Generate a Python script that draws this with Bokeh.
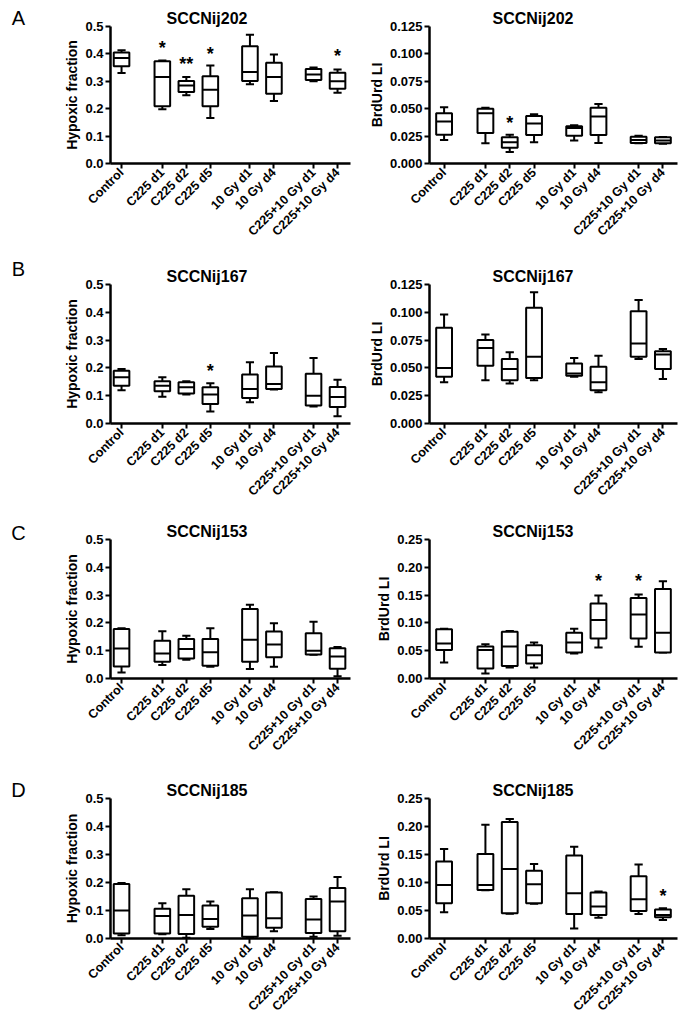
from bokeh.plotting import figure
from bokeh.layouts import gridplot, row
from bokeh.models import FixedTicker, ColumnDataSource, Range1d, NumeralTickFormatter
from bokeh.core.properties import value
from bokeh.embed import file_html
from bokeh.resources import INLINE
from math import pi

groups = ["Control", "C225 d1", "C225 d2", "C225 d5", "10 Gy d1", "10 Gy d4",
          "C225+10 Gy d1", "C225+10 Gy d4"]
group_pos = [0, 1.7, 2.7, 3.7, 5.35, 6.35, 8.0, 9.0]

# ---- A : SCCNij202 ----
a_hyp_min = [0.330, 0.198, 0.249, 0.166, 0.289, 0.228, 0.300, 0.258]
a_hyp_q1 = [0.355, 0.209, 0.261, 0.209, 0.301, 0.255, 0.305, 0.273]
a_hyp_med = [0.385, 0.316, 0.285, 0.269, 0.334, 0.316, 0.325, 0.300]
a_hyp_q3 = [0.405, 0.373, 0.301, 0.318, 0.428, 0.368, 0.345, 0.331]
a_hyp_max = [0.413, 0.376, 0.316, 0.358, 0.470, 0.398, 0.350, 0.343]
a_hyp_star_idx = [1, 2, 3, 7]
a_hyp_star_txt = ["*", "**", "*", "*"]
a_hyp_star_y = [0.440, 0.382, 0.419, 0.410]

a_brd_min = [0.0215, 0.0185, 0.0105, 0.0194, 0.0210, 0.0188, 0.0185, 0.0180]
a_brd_q1 = [0.0263, 0.0278, 0.0144, 0.0260, 0.0254, 0.0260, 0.0188, 0.0185]
a_brd_med = [0.0383, 0.0458, 0.0194, 0.0365, 0.0323, 0.0428, 0.0215, 0.0210]
a_brd_q3 = [0.0458, 0.0500, 0.0240, 0.0434, 0.0340, 0.0508, 0.0245, 0.0239]
a_brd_max = [0.0514, 0.0508, 0.0263, 0.0449, 0.0350, 0.0544, 0.0254, 0.0241]
a_brd_star_idx = [2]
a_brd_star_txt = ["*"]
a_brd_star_y = [0.0419]

# ---- B : SCCNij167 ----
b_hyp_min = [0.120, 0.096, 0.104, 0.043, 0.076, 0.122, 0.061, 0.026]
b_hyp_q1 = [0.136, 0.116, 0.108, 0.070, 0.092, 0.124, 0.065, 0.059]
b_hyp_med = [0.166, 0.136, 0.130, 0.104, 0.124, 0.142, 0.100, 0.095]
b_hyp_q3 = [0.190, 0.152, 0.148, 0.130, 0.176, 0.205, 0.179, 0.131]
b_hyp_max = [0.196, 0.166, 0.152, 0.145, 0.220, 0.254, 0.236, 0.157]
b_hyp_star_idx = [3]
b_hyp_star_txt = ["*"]
b_hyp_star_y = [0.208]

b_brd_min = [0.037, 0.039, 0.036, 0.039, 0.042, 0.028, 0.058, 0.040]
b_brd_q1 = [0.042, 0.052, 0.039, 0.041, 0.043, 0.030, 0.060, 0.049]
b_brd_med = [0.050, 0.068, 0.049, 0.060, 0.045, 0.037, 0.072, 0.062]
b_brd_q3 = [0.086, 0.075, 0.058, 0.104, 0.054, 0.051, 0.101, 0.065]
b_brd_max = [0.098, 0.080, 0.064, 0.118, 0.059, 0.061, 0.111, 0.067]
b_brd_star_idx = []
b_brd_star_txt = []
b_brd_star_y = []

# ---- C : SCCNij153 ----
c_hyp_min = [0.022, 0.049, 0.067, 0.042, 0.034, 0.042, 0.085, 0.008]
c_hyp_q1 = [0.043, 0.060, 0.072, 0.046, 0.060, 0.076, 0.086, 0.035]
c_hyp_med = [0.108, 0.090, 0.106, 0.094, 0.139, 0.122, 0.100, 0.079]
c_hyp_q3 = [0.178, 0.136, 0.142, 0.142, 0.250, 0.169, 0.163, 0.109]
c_hyp_max = [0.181, 0.170, 0.154, 0.181, 0.265, 0.199, 0.204, 0.113]
c_hyp_star_idx = []
c_hyp_star_txt = []
c_hyp_star_y = []

c_brd_min = [0.0287, 0.0090, 0.0197, 0.0197, 0.0449, 0.0556, 0.0570, 0.0467]
c_brd_q1 = [0.0514, 0.0180, 0.0227, 0.0269, 0.0467, 0.0718, 0.0720, 0.0467]
c_brd_med = [0.0628, 0.0514, 0.0574, 0.0419, 0.0646, 0.1050, 0.1150, 0.0825]
c_brd_q3 = [0.0885, 0.0574, 0.0843, 0.0598, 0.0825, 0.1350, 0.1450, 0.1610]
c_brd_max = [0.0897, 0.0616, 0.0855, 0.0646, 0.0897, 0.1495, 0.1510, 0.1750]
c_brd_star_idx = [5, 6]
c_brd_star_txt = ["*", "*"]
c_brd_star_y = [0.184, 0.184]

# ---- D : SCCNij185 ----
d_hyp_min = [0.012, 0.015, 0.003, 0.034, 0.002, 0.026, 0.006, 0.010]
d_hyp_q1 = [0.018, 0.018, 0.016, 0.042, 0.006, 0.038, 0.020, 0.026]
d_hyp_med = [0.100, 0.080, 0.084, 0.070, 0.082, 0.072, 0.068, 0.132]
d_hyp_q3 = [0.195, 0.106, 0.153, 0.118, 0.144, 0.164, 0.141, 0.180]
d_hyp_max = [0.198, 0.126, 0.176, 0.132, 0.176, 0.165, 0.150, 0.220]
d_hyp_star_idx = []
d_hyp_star_txt = []
d_hyp_star_y = []

d_brd_min = [0.0467, 0.0860, 0.0440, 0.0620, 0.0180, 0.0370, 0.0437, 0.0330]
d_brd_q1 = [0.0628, 0.0867, 0.0449, 0.0628, 0.0437, 0.0420, 0.0490, 0.0380]
d_brd_med = [0.0957, 0.0957, 0.1240, 0.0970, 0.0810, 0.0570, 0.0700, 0.0420]
d_brd_q3 = [0.1376, 0.1510, 0.2080, 0.1210, 0.1480, 0.0820, 0.1110, 0.0520]
d_brd_max = [0.1600, 0.2030, 0.2135, 0.1330, 0.1640, 0.0840, 0.1320, 0.0540]
d_brd_star_idx = [7]
d_brd_star_txt = ["*"]
d_brd_star_y = [0.085]

titles = ["SCCNij202", "SCCNij167", "SCCNij153", "SCCNij185"]
letters = ["A", "B", "C", "D"]
hyp_label = "Hypoxic fraction"
brd_label = "BrdUrd LI"
hyp_ticks = [0.0, 0.1, 0.2, 0.3, 0.4, 0.5]
brd_ticks_small = [0.0, 0.025, 0.05, 0.075, 0.1, 0.125]
brd_ticks_large = [0.0, 0.05, 0.1, 0.15, 0.2, 0.25]

FONT = "Liberation Sans"
BOX_W = 0.65
CAP_W = 0.34
LETTER_W = 30

row_heights = [265, 255, 259, 247]
row_tops = [26, 19, 19, 19]
frame_heights = [137, 139, 139, 140]
letter_up_px = [9, 16, 7, 9]   # letter centre above frame top


def make_panel(kind, row_i, mins, q1s, meds, q3s, maxs, s_idx, s_txt, s_y,
               ylabel, ticks, fmt, title):
    if kind == "left":
        w, bl, br = 365 - LETTER_W, 110 - LETTER_W, 15
        xr = Range1d(-0.46, 9.54)
        toff = 56
    else:
        w, bl, br = 313, 64, 1
        xr = Range1d(-0.6, 9.6)
        toff = 63
    h = row_heights[row_i]
    top = row_tops[row_i]
    bb = h - top - frame_heights[row_i]
    p = figure(width=w, height=h, output_backend="svg", toolbar_location=None,
               x_range=xr, y_range=Range1d(ticks[0], ticks[-1]),
               min_border_left=bl, min_border_right=br, min_border_top=top,
               min_border_bottom=bb)
    p.title.text = title
    p.title.text_font = FONT
    p.title.text_font_size = "16px"
    p.title.text_font_style = "bold"
    p.title.text_color = "black"
    p.title.align = "left"
    p.title.offset = toff
    p.title.standoff = 0
    p.outline_line_color = None
    p.xgrid.visible = False
    p.ygrid.visible = False

    x = group_pos
    src = ColumnDataSource(dict(
        x=x, lo=mins, q1=q1s, med=meds, q3=q3s, hi=maxs,
        l=[v - BOX_W / 2 for v in x], r=[v + BOX_W / 2 for v in x],
        cl=[v - CAP_W / 2 for v in x], cr=[v + CAP_W / 2 for v in x]))
    lw = 2
    p.segment(x0="x", y0="q3", x1="x", y1="hi", source=src, line_color="black", line_width=lw)
    p.segment(x0="x", y0="q1", x1="x", y1="lo", source=src, line_color="black", line_width=lw)
    p.segment(x0="cl", y0="hi", x1="cr", y1="hi", source=src, line_color="black", line_width=lw)
    p.segment(x0="cl", y0="lo", x1="cr", y1="lo", source=src, line_color="black", line_width=lw)
    p.quad(left="l", right="r", bottom="q1", top="q3", source=src,
           fill_color="white", line_color="black", line_width=lw)
    p.segment(x0="l", y0="med", x1="r", y1="med", source=src, line_color="black", line_width=lw)

    if s_idx:
        ssrc = ColumnDataSource(dict(x=[group_pos[i] for i in s_idx], y=s_y, t=s_txt))
        p.text(x="x", y="y", text="t", source=ssrc, text_align="center",
               text_baseline="middle", text_font=value(FONT), text_font_size="18px",
               text_font_style="bold", text_color="black", y_offset=5)

    for ax in (p.xaxis[0], p.yaxis[0]):
        ax.axis_line_width = 2.5
        ax.axis_line_color = "black"
        ax.major_tick_line_width = 2
        ax.major_tick_out = 5
        ax.major_tick_in = 0
        ax.minor_tick_line_color = None
        ax.major_label_text_font = FONT
        ax.major_label_text_font_style = "bold"
        ax.major_label_text_font_size = "13px"
        ax.major_label_text_color = "black"
        ax.major_label_standoff = 2
    p.xaxis.major_label_text_font_size = "12.5px"
    p.xaxis.ticker = FixedTicker(ticks=group_pos)
    p.xaxis.major_label_overrides = {pos: g for pos, g in zip(group_pos, groups)}
    p.xaxis.major_label_orientation = pi / 4
    p.yaxis.ticker = FixedTicker(ticks=ticks)
    p.yaxis.formatter = NumeralTickFormatter(format=fmt)
    p.yaxis.axis_label = ylabel
    p.yaxis.axis_label_text_font = FONT
    p.yaxis.axis_label_text_font_size = "14px"
    p.yaxis.axis_label_text_font_style = "bold"
    p.yaxis.axis_label_text_color = "black"
    p.yaxis.axis_label_standoff = 2
    return p


pa1 = make_panel("left", 0, a_hyp_min, a_hyp_q1, a_hyp_med, a_hyp_q3, a_hyp_max,
                 a_hyp_star_idx, a_hyp_star_txt, a_hyp_star_y, hyp_label, hyp_ticks, "0.0", titles[0])
pa2 = make_panel("right", 0, a_brd_min, a_brd_q1, a_brd_med, a_brd_q3, a_brd_max,
                 a_brd_star_idx, a_brd_star_txt, a_brd_star_y, brd_label, brd_ticks_small, "0.000", titles[0])
pb1 = make_panel("left", 1, b_hyp_min, b_hyp_q1, b_hyp_med, b_hyp_q3, b_hyp_max,
                 b_hyp_star_idx, b_hyp_star_txt, b_hyp_star_y, hyp_label, hyp_ticks, "0.0", titles[1])
pb2 = make_panel("right", 1, b_brd_min, b_brd_q1, b_brd_med, b_brd_q3, b_brd_max,
                 b_brd_star_idx, b_brd_star_txt, b_brd_star_y, brd_label, brd_ticks_small, "0.000", titles[1])
pc1 = make_panel("left", 2, c_hyp_min, c_hyp_q1, c_hyp_med, c_hyp_q3, c_hyp_max,
                 c_hyp_star_idx, c_hyp_star_txt, c_hyp_star_y, hyp_label, hyp_ticks, "0.0", titles[2])
pc2 = make_panel("right", 2, c_brd_min, c_brd_q1, c_brd_med, c_brd_q3, c_brd_max,
                 c_brd_star_idx, c_brd_star_txt, c_brd_star_y, brd_label, brd_ticks_large, "0.00", titles[2])
pd1 = make_panel("left", 3, d_hyp_min, d_hyp_q1, d_hyp_med, d_hyp_q3, d_hyp_max,
                 d_hyp_star_idx, d_hyp_star_txt, d_hyp_star_y, hyp_label, hyp_ticks, "0.0", titles[3])
pd2 = make_panel("right", 3, d_brd_min, d_brd_q1, d_brd_med, d_brd_q3, d_brd_max,
                 d_brd_star_idx, d_brd_star_txt, d_brd_star_y, brd_label, brd_ticks_large, "0.00", titles[3])

grid = gridplot([[pa1, pa2], [pb1, pb2], [pc1, pc2], [pd1, pd2]], toolbar_location=None)

# panel letters in a narrow strip on the left (pixel coordinates)
total_h = sum(row_heights)
row_starts = [sum(row_heights[:i]) for i in range(4)]
letter_y = [total_h - (row_starts[i] + row_tops[i] - letter_up_px[i]) for i in range(4)]
lf = figure(width=LETTER_W, height=total_h, output_backend="svg", toolbar_location=None,
            x_range=Range1d(0, LETTER_W), y_range=Range1d(0, total_h),
            min_border_left=0, min_border_right=0, min_border_top=0, min_border_bottom=0)
lf.axis.visible = False
lf.xgrid.visible = False
lf.ygrid.visible = False
lf.outline_line_color = None
lf.text(x=[18] * 4, y=letter_y, text=letters, text_align="center", text_baseline="middle",
        text_font=value(FONT), text_font_size="20px", text_color="black")

layout = row(lf, grid)

open("out.html", "w").write(file_html(layout, INLINE))
